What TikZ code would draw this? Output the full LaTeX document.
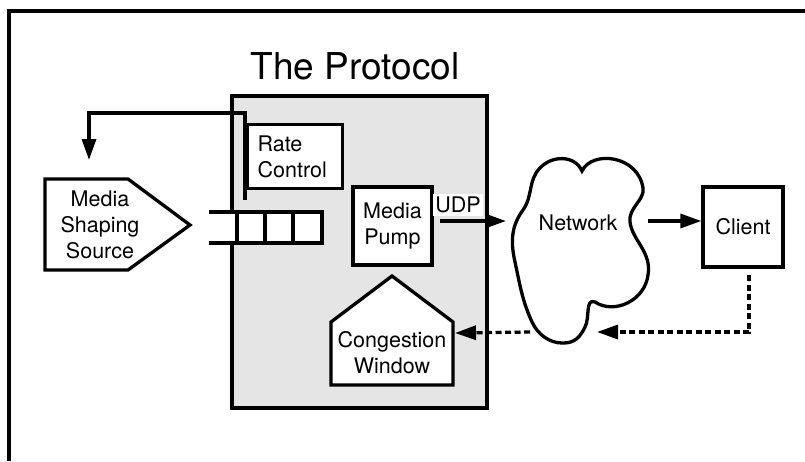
\documentclass[tikz,border=0pt]{standalone}
\usepackage{fontspec}
\setmainfont{TeX Gyre Heros}
\usetikzlibrary{arrows.meta}
\definecolor{protogray}{gray}{0.9}
\tikzset{
  lbl/.style={font=\fontsize{21.5}{26}\selectfont, align=center},
  box/.style={draw, line width=3.3pt, fill=white},
  wire/.style={line width=3.3pt},
  arr/.style={wire, -{Triangle[length=21pt,width=14pt]}},
  dotwire/.style={wire, dash pattern=on 6pt off 3.5pt},
  dotarr/.style={dotwire, -{Triangle[length=21pt,width=14pt]}}
}
\begin{document}
\begin{tikzpicture}[x=1pt,y=-1pt]
\useasboundingbox (0,0) rectangle (805,461);

% outer frame (top and left edges)
\draw[wire] (805,11) -- (9,11) -- (9,461);

% title
\node[anchor=base, font=\fontsize{37}{44}\selectfont] (title) at (355,79) {The Protocol};

% protocol body
\draw[box, fill=protogray] (232,96) rectangle (487,408);

% rate control feedback to the source
\coordinate (rcbot) at (245,200);
\coordinate (rctop) at (245,113);
\coordinate (fbturn) at (89,113);
\coordinate (fbend) at (89,160);
\draw[arr] (rcbot) -- (rctop) -- (fbturn) -- (fbend);

% rate control box
\node[box, anchor=north west, minimum width=95pt, minimum height=64pt,
      text width=75pt, inner xsep=10pt, lbl, align=left] (rate) at (246,123) {Rate\\Control};

% media shaping source
\draw[box] (45,179) -- (128,179) -- (190,225) -- (128,270) -- (45,270) -- cycle;
\node[lbl] (shaping) at (100,225) {Media\\Shaping\\Source};

% queue
\fill[white] (209,212) rectangle (322,243);
\draw[wire] (209,212) -- (322,212) -- (322,243) -- (209,243);
\foreach \qx in {237,265,293} \draw[wire] (\qx,212) -- (\qx,243);

% media pump
\node[box, minimum width=79pt, minimum height=78pt, lbl] (pump) at (392.5,226) {Media\\Pump};

% congestion window
\draw[box] (331,385) -- (331,322) -- (392,276) -- (453,322) -- (453,385) -- cycle;
\node[lbl] (cwnd) at (392,353) {Congestion\\Window};
\coordinate (cwin) at (455,333);

% network cloud
\draw[box] (582,171) .. controls (592,150) and (638,155) .. (643,188)
  .. controls (645,200) and (628,208) .. (630,222)
  .. controls (632,240) and (652,252) .. (648,275)
  .. controls (645,300) and (615,315) .. (595,302)
  .. controls (585,298) and (590,318) .. (585,327)
  .. controls (578,342) and (570,343) .. (562,343)
  .. controls (550,343) and (538,335) .. (532,322)
  .. controls (522,300) and (520,285) .. (515,262)
  .. controls (510,240) and (512,225) .. (523,210)
  .. controls (533,196) and (528,180) .. (540,168)
  .. controls (552,155) and (575,155) .. (582,171) -- cycle;
\node[lbl] (network) at (578,223) {Network};
\coordinate (netin) at (506,221);
\coordinate (netout) at (648,221);
\coordinate (netback) at (597,332);
\coordinate (netleft) at (530,332);

% client
\node[box, minimum width=80pt, minimum height=80pt, lbl] (client) at (743,227) {Client};
\coordinate (clbot) at (749,275);
\coordinate (clturn) at (749,332);

% UDP data path
\coordinate (udpstart) at (440,221);
\draw[arr] (udpstart) -- (netin);
\node[lbl, fill=white, inner xsep=2pt, inner ysep=3pt] (udp) at (458,205) {UDP};
\draw[arr] (netout) -- (client.west |- netout);

% acknowledgement path
\draw[dotarr] (clbot) -- (clturn) -- (netback);
\draw[dotarr] (netleft) -- (cwin);
\end{tikzpicture}
\end{document}
